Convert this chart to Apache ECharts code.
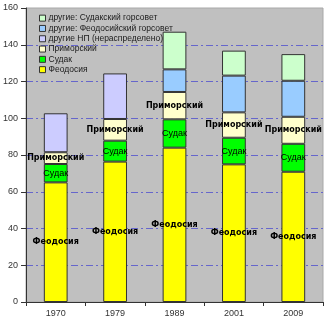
<!DOCTYPE html>
<html>
<head>
<meta charset="utf-8">
<script src="https://cdn.jsdelivr.net/npm/echarts@6/dist/echarts.min.js"></script>
<style>
  html, body { margin: 0; padding: 0; background: #ffffff; }
  #chart { width: 330px; height: 327px; }
</style>
</head>
<body>
<div id="chart"></div>
<script>
// Population by year, thousands, stacked from the bottom up
var years = ['1970', '1979', '1989', '2001', '2009'];
var feodosiya = [65.1, 76.4, 84.0, 74.9, 70.9];
var sudak = [10.0, 11.4, 15.4, 14.5, 15.2];
var primorsky = [6.4, 11.8, 14.9, 13.8, 14.7];
var otherUnallocated = [21.2, 24.8, null, null, null];
var otherFeodosiyaCouncil = [null, null, 12.3, 20.0, 19.6];
var otherSudakCouncil = [null, null, 20.5, 13.6, 14.5];
var yTicks = [0, 20, 40, 60, 80, 100, 120, 140, 160];

var names = {
  f: 'Феодосия',
  s: 'Судак',
  p: 'Приморский',
  u: 'другие НП (нераспределено)',
  fc: 'другие: Феодосийский горсовет',
  sc: 'другие: Судакский горсовет'
};

function barSeries(name, data, color, label) {
  return {
    name: name,
    type: 'bar',
    stack: 'total',
    barWidth: '40%',
    data: data,
    itemStyle: { color: color, borderColor: '#333333', borderWidth: 1 },
    label: label || { show: false }
  };
}

var boldLabel = function (text) {
  return {
    show: true,
    position: 'inside',
    formatter: text,
    color: '#000000',
    fontFamily: 'DejaVu Sans',
    fontWeight: 'bold',
    fontSize: 8
  };
};

var chart = echarts.init(document.getElementById('chart'), null, { renderer: 'canvas' });
chart.setOption({
  animation: false,
  backgroundColor: '#ffffff',
  grid: {
    left: 25, right: 7, top: 8, bottom: 25,
    show: true,
    backgroundColor: '#c0c0c0',
    borderColor: '#a8a8a8',
    borderWidth: 1
  },
  legend: {
    orient: 'vertical',
    left: 34,
    top: 8,
    itemWidth: 6,
    itemHeight: 6,
    itemGap: 0,
    icon: 'rect',
    data: [names.sc, names.fc, names.u, names.p, names.s, names.f],
    textStyle: {
      fontFamily: 'Liberation Sans',
      fontSize: 8.5,
      color: '#1a1a1a',
      lineHeight: 10.3,
      padding: [0, 0, 0, -2]
    },
    itemStyle: { borderColor: '#333333', borderWidth: 1 }
  },
  xAxis: {
    type: 'category',
    data: years,
    axisLine: { lineStyle: { color: '#333333' } },
    axisTick: { show: true, length: 4, lineStyle: { color: '#333333' } },
    axisLabel: {
      fontFamily: 'Liberation Sans',
      fontSize: 9,
      color: '#333333',
      margin: 7
    }
  },
  yAxis: {
    type: 'value',
    min: yTicks[0],
    max: yTicks[yTicks.length - 1],
    interval: 20,
    axisLine: { show: true, lineStyle: { color: '#333333' } },
    axisTick: { show: true, length: 5, lineStyle: { color: '#333333' } },
    axisLabel: {
      fontFamily: 'Liberation Sans',
      fontSize: 9,
      color: '#333333',
      margin: 8
    },
    splitLine: {
      show: true,
      lineStyle: {
        color: ['transparent', '#6666cc', '#6666cc', '#6666cc', '#6666cc',
                '#6666cc', '#6666cc', '#6666cc', 'transparent'],
        width: 1,
        type: [7, 3, 2, 3]
      }
    }
  },
  series: [
    barSeries(names.f, feodosiya, '#ffff00', boldLabel(names.f)),
    barSeries(names.s, sudak, '#00ff00', {
      show: true,
      position: 'inside',
      formatter: names.s,
      color: '#000000',
      fontFamily: 'Liberation Sans',
      fontSize: 9
    }),
    barSeries(names.p, primorsky, '#ffffcc', boldLabel(names.p)),
    barSeries(names.u, otherUnallocated, '#ccccff'),
    barSeries(names.fc, otherFeodosiyaCouncil, '#99ccff'),
    barSeries(names.sc, otherSudakCouncil, '#ccffcc')
  ]
});
</script>
</body>
</html>
